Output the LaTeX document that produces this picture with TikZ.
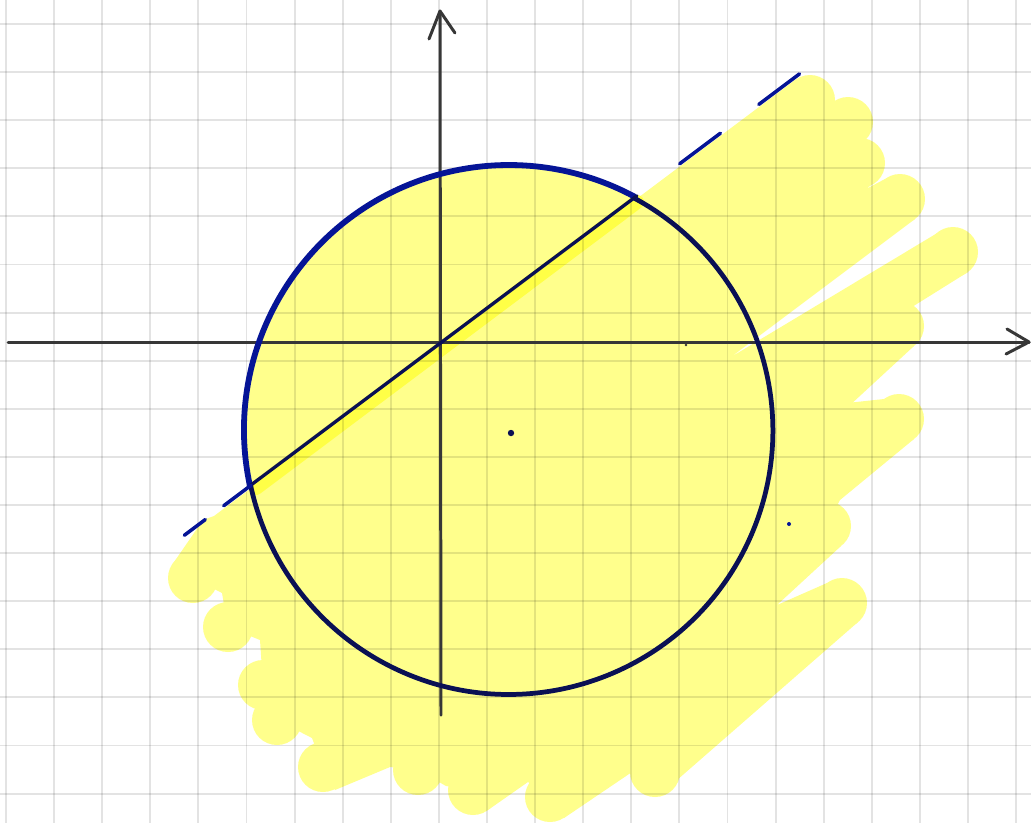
\documentclass[tikz,border=0pt]{standalone}
\usepackage{xcolor}
\usepackage{tikz}
\usetikzlibrary{calc}
\definecolor{hlyellow}{RGB}{255,255,140}
\definecolor{hlbright}{RGB}{255,255,70}
\definecolor{inkblue}{RGB}{5,20,150}
\definecolor{inknavy}{RGB}{10,16,84}
\definecolor{axisgray}{RGB}{55,55,55}

\begin{document}
\begin{tikzpicture}[x=0.02cm,y=-0.02cm,
  gridln/.style={draw=black,opacity=0.11,line width=1.1pt},
  hl/.style={fill=hlyellow},
  axis/.style={draw=axisgray,line width=1.7pt,line cap=round,line join=round},
  ring/.style={draw=inknavy,line width=2.7pt},
  ringhand/.style={draw=inkblue,line width=3.3pt,line cap=round},
  chord/.style={draw=inknavy,line width=1.9pt,line cap=round},
  dashln/.style={draw=inkblue,line width=2pt,line cap=round}]
\useasboundingbox (0,0) rectangle (1031,823);
\fill[white] (0,0) rectangle (1031,823);
\clip (0,0) rectangle (1031,823);
\coordinate (O) at (442,342);
\coordinate (C) at (509,430);
\coordinate (A) at (251,485);
\coordinate (B) at (634,198);
\coordinate (ytop) at (440,11);
\coordinate (ybot) at (441,715);
\coordinate (xleft) at (8,342);
\coordinate (xtip) at (1029,342);
% highlighter
\begin{scope}
  \clip (0,676) -- (1031,-97) -- (0,-97) -- cycle;
  \fill[hl] (C) circle[radius=264];
\end{scope}
\fill[hl] (214,516) -- (795,80) -- (810,100) -- (830,112) -- (848,122) -- (858,145)
  -- (860,163) -- (872,184) -- (866,189) -- (885,179) -- (900,199) -- (915,219)
  -- (731,357) -- (939,232) -- (953,252) -- (968,272) -- (912,307) -- (899,326)
  -- (914,346) -- (810,442) -- (847,403) -- (884,399) -- (899,419) -- (914,439)
  -- (840,500) -- (826,526) -- (841,546) -- (777,605) -- (827,583) -- (842,603)
  -- (858,622) -- (677,780) -- (655,772) -- (632,772) -- (564,818) -- (550,797)
  -- (528,782) -- (488,810) -- (473,790) -- (446,786) -- (418,770) -- (390,767)
  -- (335,790) -- (323,767) -- (312,738) -- (277,720) -- (263,685) -- (260,640)
  -- (228,627) -- (222,593) -- (193,578) -- (172,565) -- (203,520) -- cycle;
\foreach \px/\py in {810/100,848/122,860/163,900/199,953/252,899/326,899/419,
    826/526,842/603,655/772,550/797,473/790,418/770,323/767,277/720,263/685,
    228/627,193/578}
  \fill[hl] (\px,\py) circle[radius=25];
\draw[draw=hlbright,line width=8pt,line cap=round] (256,488) -- (637,202);
% grid
\foreach \i in {0,...,21}
  \draw[gridln] ({6+48.1*\i},0) -- ({6+48.1*\i},823);
\foreach \j in {0,...,16}
  \draw[gridln] (0,{24+48.1*\j}) -- (1031,{24+48.1*\j});
% axes
\draw[axis] (ybot) -- (ytop);
\draw[axis] (429,39) -- (ytop) -- (455,33);
\draw[axis] (xleft) -- (xtip);
\draw[axis] (1007,329) -- (xtip) -- (1006,354);
% circle and line
\draw[ring] (B) arc[start angle=-61.7,end angle=168,radius=264];
\draw[ringhand] (C) ++(168:265) arc[start angle=168,end angle=298.3,radius=265];
\draw[chord] (A) -- ($(O)!1.015!(B)$);
\foreach \a/\b in {-1.342/-1.233,-1.137/-0.995,1.238/1.45,1.65/1.862}
  \draw[dashln] ($(O)!\a!(B)$) -- ($(O)!\b!(B)$);
\fill[inknavy] (511,433) circle[radius=3.2];
\fill[inkblue] (789,524) circle[radius=2];
\fill[axisgray] (686,345) circle[radius=1.3];
\end{tikzpicture}
\end{document}
